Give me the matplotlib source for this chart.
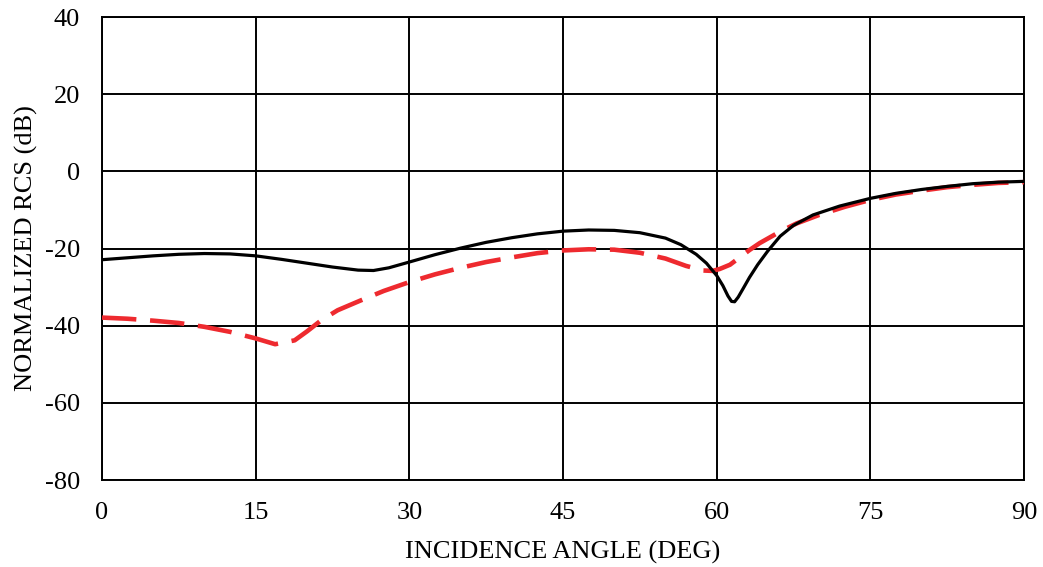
import matplotlib.pyplot as plt
import numpy as np

plt.rcParams['font.family'] = ['Liberation Serif', 'DejaVu Serif']
plt.rcParams['axes.unicode_minus'] = False

# Black solid curve
angle_a = [0, 2.5, 5, 7.5, 10, 12.5, 15, 17.5, 20, 22.5, 25, 26.5, 28, 30, 32.5, 35, 37.5, 40, 42.5, 45,
           47.5, 50, 52.5, 55, 56.5, 58, 59, 60, 60.6, 61.1, 61.45, 61.75, 62.1, 62.6, 63.2, 64, 65,
           66.2, 67.5, 69.4, 72, 75, 77.5, 80, 82.5, 85, 87.5, 90]
rcs_a = [-22.9, -22.4, -21.9, -21.5, -21.3, -21.4, -21.9, -22.8, -23.8, -24.8, -25.6, -25.7, -25.0, -23.5,
         -21.6, -19.9, -18.4, -17.2, -16.2, -15.5, -15.2, -15.3, -15.9, -17.3, -19.0, -21.5, -23.8,
         -27.0, -29.6, -32.3, -33.7, -33.8, -32.6, -30.3, -27.5, -24.2, -20.6, -16.8, -14.0, -11.3,
         -9.0, -7.0, -5.7, -4.7, -3.9, -3.2, -2.8, -2.6]

# Red dashed curve
angle_b = [0, 2.5, 5, 7.5, 10, 12.5, 15, 16.9, 18.8, 20, 21.4, 23, 25.3, 27.5, 30, 32.5, 35, 37.5, 40,
           42.5, 45, 47.5, 50, 52.5, 55, 57, 58.7, 59.6, 60.3, 61.3, 62.3, 63.2, 64.2, 66.2, 67.8, 70,
           72.5, 75, 77.5, 80, 82.5, 85, 87.5, 90]
rcs_b = [-37.9, -38.2, -38.7, -39.3, -40.3, -41.6, -43.3, -44.8, -43.8, -41.5, -38.6, -36.0, -33.4,
         -31.0, -28.7, -26.7, -25.0, -23.5, -22.3, -21.2, -20.5, -20.2, -20.3, -21.1, -22.6, -24.5,
         -25.7, -25.8, -25.3, -24.2, -22.2, -20.4, -18.6, -15.6, -13.5, -11.3, -9.2, -7.4, -6.0, -5.0,
         -4.1, -3.5, -3.0, -2.8]

fig = plt.figure(figsize=(10.43, 5.67), dpi=100)
ax = fig.add_axes([0.0978, 0.1534, 0.884, 0.8166])

ax.plot(angle_b, rcs_b, color='#ee2a2f', lw=3.3, dashes=(7.5, 3), zorder=3)
ax.plot(angle_a, rcs_a, color='black', lw=2.3, zorder=4)

ax.set_xlim(0, 90)
ax.set_ylim(-80, 40)
ax.set_xticks(np.arange(0, 91, 15))
ax.set_yticks(np.arange(-80, 41, 20))
ax.grid(True, color='black', lw=1.4)
for s in ax.spines.values():
    s.set_linewidth(1.4)
ax.tick_params(length=0, labelsize=19, pad=16)
ax.set_xlabel('INCIDENCE ANGLE (DEG)', fontsize=19, labelpad=12)
ax.set_ylabel('NORMALIZED RCS (dB)', fontsize=19, labelpad=5)

fig.savefig('out.png', dpi=100)
